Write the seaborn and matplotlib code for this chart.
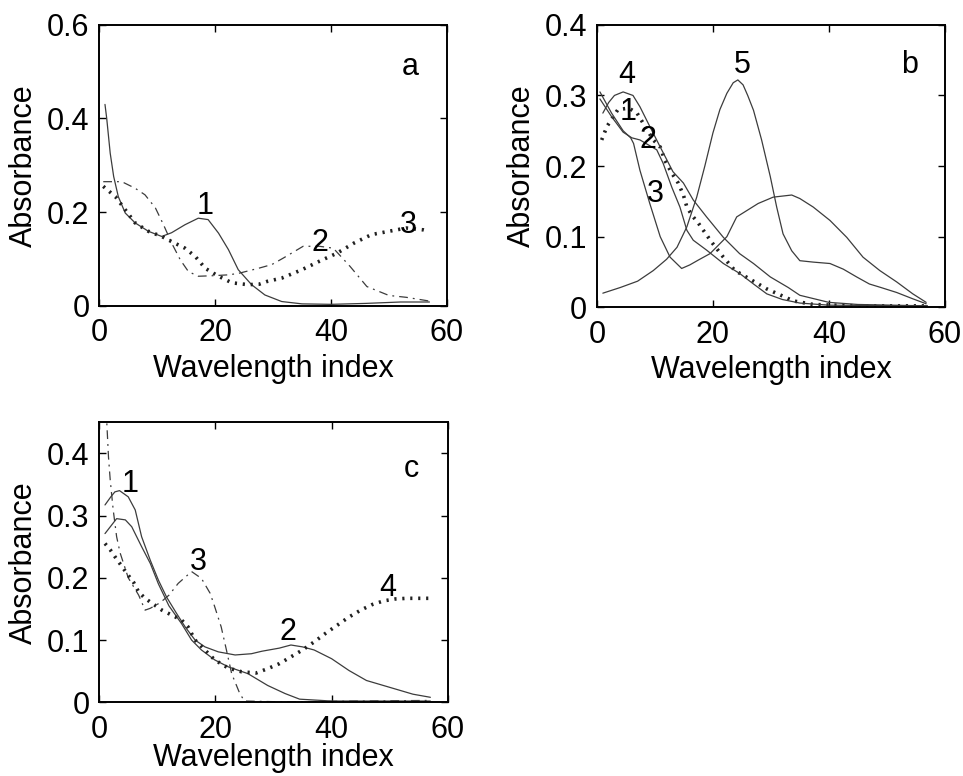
import matplotlib
matplotlib.use("Agg")
import matplotlib.pyplot as plt
import seaborn as sns
import numpy as np

# ---------------- data ----------------
# panel a
a_x1 = [1, 1.3, 1.9, 2.5, 3.3, 4.5, 6.2, 8.5, 10.8, 12.5, 14.8, 17.1, 18.8, 20.6, 22.3, 24, 26.3, 28.6, 31.5, 35, 40, 46, 52, 57]
a_y1 = [0.43, 0.40, 0.326, 0.276, 0.233, 0.198, 0.177, 0.159, 0.148, 0.156, 0.173, 0.187, 0.184, 0.155, 0.12, 0.077, 0.045, 0.023, 0.009, 0.004, 0.003, 0.005, 0.008, 0.008]
a_x2 = [0.7, 3.9, 6.2, 7.9, 9.7, 11.1, 12.5, 14, 15.4, 17.1, 19.4, 22.3, 24, 27.5, 29.8, 31.8, 35.2, 38, 40.4, 43.3, 46.2, 50, 53, 57]
a_y2 = [0.265, 0.265, 0.251, 0.237, 0.209, 0.173, 0.134, 0.098, 0.073, 0.063, 0.064, 0.066, 0.069, 0.08, 0.088, 0.102, 0.127, 0.127, 0.123, 0.084, 0.041, 0.022, 0.018, 0.01]
a_x3 = [0.7, 2.8, 4.5, 6.2, 8.5, 10.8, 12.5, 14.8, 16.6, 18.3, 20.6, 22.9, 25.7, 27.6, 29, 31.5, 35, 38, 41, 44, 47, 50, 53, 56, 57]
a_y3 = [0.255, 0.233, 0.205, 0.177, 0.159, 0.148, 0.137, 0.123, 0.105, 0.08, 0.063, 0.049, 0.045, 0.046, 0.052, 0.059, 0.077, 0.095, 0.112, 0.134, 0.152, 0.159, 0.166, 0.162, 0.159]

# panel b
b_x1 = [0.8, 1.7, 3.6, 5.5, 6.9, 9.7, 10.9, 11.7, 12.9, 14, 14.9, 15.5, 16.4, 17.5, 18.6, 19.8, 21.8, 23.8, 25.3, 29.3, 33.9, 37.3, 45, 57]
b_y1 = [0.237, 0.256, 0.28, 0.282, 0.275, 0.237, 0.227, 0.208, 0.19, 0.176, 0.159, 0.142, 0.13, 0.119, 0.106, 0.092, 0.071, 0.052, 0.045, 0.026, 0.009, 0.004, 0.002, 0.002]
b_x2 = [0.5, 2.5, 4.5, 6, 7.4, 10.3, 11.4, 12.9, 14.3, 15.5, 16.6, 18.9, 21.8, 24.6, 27, 29.3, 32, 35, 40, 57]
b_y2 = [0.295, 0.27, 0.248, 0.24, 0.237, 0.223, 0.204, 0.17, 0.142, 0.109, 0.095, 0.081, 0.062, 0.048, 0.033, 0.019, 0.011, 0.006, 0.003, 0.002]
b_x3 = [0.5, 2.5, 4.5, 5.8, 6.3, 7.4, 9.1, 10.9, 12.6, 14.6, 16, 17.5, 19.5, 22.4, 24.1, 27.8, 30.4, 33.6, 35, 37.3, 40.2, 43.1, 45.9, 48.8, 51.7, 54.5, 56.8]
b_y3 = [0.305, 0.275, 0.25, 0.24, 0.232, 0.194, 0.147, 0.1, 0.071, 0.055, 0.06, 0.067, 0.076, 0.1, 0.128, 0.147, 0.156, 0.159, 0.154, 0.142, 0.123, 0.099, 0.071, 0.052, 0.036, 0.019, 0.007]
b_x4 = [1, 2, 3, 4.5, 6.2, 7.4, 8.8, 10.9, 13.1, 14.9, 16.6, 18.9, 21.8, 24.6, 27, 29.9, 33, 35, 40, 45, 57]
b_y4 = [0.275, 0.29, 0.30, 0.305, 0.30, 0.284, 0.261, 0.227, 0.192, 0.176, 0.152, 0.128, 0.099, 0.076, 0.062, 0.043, 0.028, 0.017, 0.007, 0.004, 0.002]
b_x5 = [1, 4, 7, 9.7, 12, 13.8, 15.5, 17.2, 18.6, 20, 21.2, 22.4, 23.5, 24.3, 25.2, 26, 27, 28.4, 29.9, 31, 32.1, 33.6, 35, 37.3, 40.2, 42.5, 44.8, 47, 49, 51.7, 54.5, 56.8]
b_y5 = [0.02, 0.028, 0.037, 0.052, 0.068, 0.085, 0.114, 0.156, 0.2, 0.247, 0.28, 0.303, 0.318, 0.322, 0.315, 0.3, 0.279, 0.237, 0.185, 0.142, 0.104, 0.08, 0.066, 0.064, 0.062, 0.054, 0.043, 0.033, 0.028, 0.021, 0.012, 0.005]

# panel c
c_x1 = [1, 2, 2.7, 3.5, 5, 6.2, 7.3, 8.8, 10.2, 11.6, 13.3, 14.8, 16.5, 18.2, 20.5, 23.4, 26.2, 28, 31, 33, 35, 37, 40, 43, 46, 50, 54, 57]
c_y1 = [0.317, 0.33, 0.338, 0.34, 0.33, 0.309, 0.266, 0.228, 0.196, 0.169, 0.143, 0.121, 0.1, 0.089, 0.081, 0.076, 0.078, 0.082, 0.087, 0.092, 0.089, 0.084, 0.07, 0.051, 0.035, 0.024, 0.013, 0.008]
c_x2 = [1, 3, 4.5, 5.6, 7.3, 8.8, 10.2, 12, 14.2, 15.9, 17.6, 19.9, 22.2, 25.6, 29, 32, 34.5, 40, 50, 57]
c_y2 = [0.271, 0.295, 0.293, 0.282, 0.25, 0.223, 0.19, 0.155, 0.126, 0.1, 0.084, 0.068, 0.057, 0.046, 0.027, 0.014, 0.005, 0.002, 0.002, 0.002]
c_x3 = [1.2, 1.6, 1.9, 2.4, 3.0, 3.6, 5, 6.8, 7.9, 8.8, 10.5, 12, 13.6, 15.9, 17.6, 19.1, 19.9, 21, 21.9, 22.8, 24.2, 25, 30, 35, 45, 57]
c_y3 = [0.47, 0.394, 0.357, 0.31, 0.266, 0.24, 0.2, 0.172, 0.148, 0.151, 0.16, 0.172, 0.191, 0.21, 0.199, 0.175, 0.153, 0.121, 0.084, 0.046, 0.014, 0.002, 0.001, 0.001, 0.002, 0.003]
c_x4 = [1, 1.9, 2.7, 5, 5.9, 6.8, 7.9, 9.1, 10.8, 12.5, 14.2, 15.3, 16.5, 18.2, 19.9, 22.2, 24.5, 27, 29, 31, 33, 35, 37, 39, 41, 43, 45, 47, 49, 51, 53, 55, 57]
c_y4 = [0.255, 0.245, 0.234, 0.204, 0.193, 0.177, 0.167, 0.159, 0.148, 0.14, 0.132, 0.121, 0.1, 0.084, 0.068, 0.055, 0.049, 0.047, 0.054, 0.062, 0.073, 0.084, 0.097, 0.111, 0.124, 0.137, 0.148, 0.157, 0.163, 0.166, 0.167, 0.167, 0.167]

x_ticks = [0, 20, 40, 60]
x_ticklabels = ["0", "20", "40", "60"]
a_yticks = [0, 0.2, 0.4, 0.6]
a_yticklabels = ["0", "0.2", "0.4", "0.6"]
b_yticks = [0, 0.1, 0.2, 0.3, 0.4]
b_yticklabels = ["0", "0.1", "0.2", "0.3", "0.4"]
c_yticks = [0, 0.1, 0.2, 0.3, 0.4]
c_yticklabels = ["0", "0.1", "0.2", "0.3", "0.4"]

# ---------------- style ----------------
sns.set_style("ticks")
plt.rcParams["font.family"] = ["Liberation Sans", "DejaVu Sans"]
plt.rcParams["text.color"] = "black"
plt.rcParams["axes.labelcolor"] = "black"
plt.rcParams["xtick.color"] = "black"
plt.rcParams["ytick.color"] = "black"
FS = 22
LINE_C = "#3c3c3c"
DOT_C = "#202020"

fig = plt.figure(figsize=(9.63, 7.76), dpi=100)
fig.patch.set_facecolor("white")

ax_a = fig.add_axes([0.103, 0.606, 0.361, 0.362])
ax_b = fig.add_axes([0.620, 0.604, 0.361, 0.364])
ax_c = fig.add_axes([0.103, 0.095, 0.362, 0.361])


def solid(ax, x, y):
    sns.lineplot(x=x, y=y, ax=ax, sort=False, estimator=None, color=LINE_C, lw=0.9)


def dotted(ax, x, y):
    sns.lineplot(x=x, y=y, ax=ax, sort=False, estimator=None, color=DOT_C, lw=2.6,
                 linestyle=(0, (0.6, 1.6)))


def dashdot(ax, x, y):
    sns.lineplot(x=x, y=y, ax=ax, sort=False, estimator=None, color=LINE_C, lw=0.9,
                 linestyle=(0, (7, 4, 1.5, 4)))


# panel a
solid(ax_a, a_x1, a_y1)
dashdot(ax_a, a_x2, a_y2)
dotted(ax_a, a_x3, a_y3)
ax_a.text(18.3, 0.212, "1", fontsize=FS, ha="center", va="center")
ax_a.text(38.1, 0.134, "2", fontsize=FS, ha="center", va="center")
ax_a.text(53.4, 0.173, "3", fontsize=FS, ha="center", va="center")
ax_a.text(53.7, 0.511, "a", fontsize=FS, ha="center", va="center")

# panel b
dotted(ax_b, b_x1, b_y1)
solid(ax_b, b_x2, b_y2)
solid(ax_b, b_x3, b_y3)
solid(ax_b, b_x4, b_y4)
solid(ax_b, b_x5, b_y5)
ax_b.text(5.4, 0.277, "1", fontsize=FS, ha="center", va="center")
ax_b.text(8.8, 0.237, "2", fontsize=FS, ha="center", va="center")
ax_b.text(10.0, 0.160, "3", fontsize=FS, ha="center", va="center")
ax_b.text(5.2, 0.329, "4", fontsize=FS, ha="center", va="center")
ax_b.text(25.0, 0.343, "5", fontsize=FS, ha="center", va="center")
ax_b.text(54.0, 0.343, "b", fontsize=FS, ha="center", va="center")

# panel c
solid(ax_c, c_x1, c_y1)
solid(ax_c, c_x2, c_y2)
dashdot(ax_c, c_x3, c_y3)
dotted(ax_c, c_x4, c_y4)
ax_c.text(5.3, 0.350, "1", fontsize=FS, ha="center", va="center")
ax_c.text(32.5, 0.113, "2", fontsize=FS, ha="center", va="center")
ax_c.text(17.1, 0.226, "3", fontsize=FS, ha="center", va="center")
ax_c.text(49.7, 0.183, "4", fontsize=FS, ha="center", va="center")
ax_c.text(53.7, 0.375, "c", fontsize=FS, ha="center", va="center")

for ax, yt, ytl, ylim, xpad in [(ax_a, a_yticks, a_yticklabels, 0.6, 4),
                                (ax_b, b_yticks, b_yticklabels, 0.4, 4),
                                (ax_c, c_yticks, c_yticklabels, 0.45, -1)]:
    ax.set_xlim(0, 60)
    ax.set_ylim(0, ylim)
    ax.set_xticks(x_ticks)
    ax.set_xticklabels(x_ticklabels)
    ax.set_yticks(yt)
    ax.set_yticklabels(ytl)
    ax.tick_params(direction="in", top=True, right=True, length=5, width=1.0,
                   labelsize=FS, colors="black")
    ax.tick_params(axis="y", pad=7)
    ax.tick_params(axis="x", pad=9)
    for s in ax.spines.values():
        s.set_visible(True)
        s.set_linewidth(1.4)
        s.set_color("black")
    ax.set_xlabel("Wavelength index", fontsize=FS, labelpad=xpad, color="black")
    ax.set_ylabel("Absorbance", fontsize=FS, labelpad=6, color="black")
    ax.set_facecolor("white")

fig.savefig("out.png", dpi=100, facecolor="white")
